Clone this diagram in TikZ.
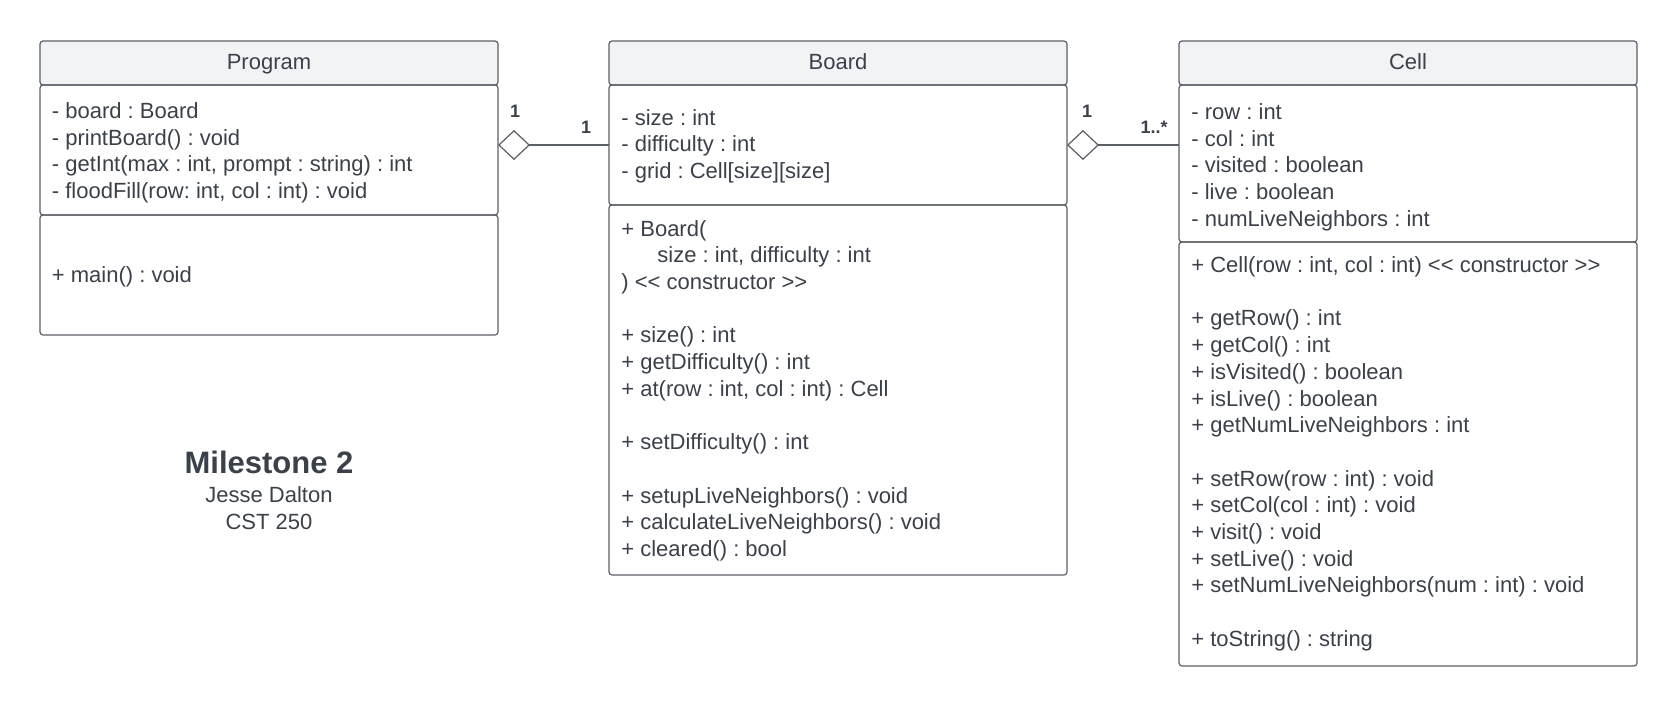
\documentclass[tikz,border=0pt]{standalone}
\usepackage{fontspec}
\setmainfont{Liberation Sans}
\usetikzlibrary{arrows.meta}
\definecolor{txt}{HTML}{3A414A}
\definecolor{edge}{HTML}{5A6068}
\definecolor{hdr}{HTML}{F2F3F5}
\newcommand{\blankline}{\\[13.35pt]}
\begin{document}
\frenchspacing
\begin{tikzpicture}[x=0.5pt,y=-0.5pt,
  font=\fontsize{11}{13.35}\selectfont, text=txt,
  compart/.style={draw=edge, line width=0.6pt, rounded corners=1.5pt, anchor=north west,
    minimum width=229pt, inner sep=0pt, outer sep=0pt},
  hdrbox/.style={compart, fill=hdr, minimum height=22pt, text depth=2.4pt, text height=9pt},
  member/.style={anchor=base west, align=left, inner sep=0pt},
  mult/.style={font=\bfseries\fontsize{9}{10}\selectfont, inner sep=0pt},
  assoc/.style={draw=edge, line width=0.6pt, -{Diamond[open,length=16pt,width=15pt]}}
]
\useasboundingbox (0,0) rectangle (1679,707);

% Program
\node[hdrbox] (ph) at (40,41) {Program};
\node[compart, minimum height=65pt] (pa) at (40,85) {};
\node[compart, minimum height=60pt] (pm) at (40,215) {};
% member nodes are anchored at the baseline of their last line
\node[member] (pat) at (51.5,198.5) {- board : Board\\- printBoard() : void\\- getInt(max : int, prompt : string) : int\\- floodFill(row: int, col : int) : void};
\node[member] (pmt) at (51.5,282) {+ main() : void};

% Board
\node[hdrbox] (bh) at (609,41) {Board};
\node[compart, minimum height=60pt] (ba) at (609,85) {};
\node[compart, minimum height=185pt] (bm) at (609,205) {};
\node[member] (bat) at (621,178.4) {- size : int\\- difficulty : int\\- grid : Cell[size][size]};
\node[member] (bmt) at (621,556.4) {+ Board(\\\hspace*{18pt}size : int, difficulty : int\\) {<}{<} constructor {>}{>}\blankline
+ size() : int\\+ getDifficulty() : int\\+ at(row : int, col : int) : Cell\blankline
+ setDifficulty() : int\blankline
+ setupLiveNeighbors() : void\\+ calculateLiveNeighbors() : void\\+ cleared() : bool};

% Cell
\node[hdrbox] (ch) at (1179,41) {Cell};
\node[compart, minimum height=78.5pt] (ca) at (1179,85) {};
\node[compart, minimum height=212pt] (cm) at (1179,242) {};
\node[member] (cat) at (1191,226.3) {- row : int\\- col : int\\- visited : boolean\\- live : boolean\\- numLiveNeighbors : int};
\node[member] (cmt) at (1191,646.3) {+ Cell(row : int, col : int) {<}{<} constructor {>}{>}\blankline
+ getRow() : int\\+ getCol() : int\\+ isVisited() : boolean\\+ isLive() : boolean\\+ getNumLiveNeighbors : int\blankline
+ setRow(row : int) : void\\+ setCol(col : int) : void\\+ visit() : void\\+ setLive() : void\\+ setNumLiveNeighbors(num : int) : void\blankline
+ toString() : string};

% Associations
\draw[assoc] (ba.west) -- (pa.east |- ba.west);
\draw[assoc] (ca.west |- ba.east) -- (ba.east);
\node[mult] (m1) at (515,111) {1};
\node[mult] (m2) at (586,127.5) {1};
\node[mult] (m3) at (1087,111) {1};
\node[mult] (m4) at (1154,127.5) {1..*};

% Title
\node[font=\bfseries\fontsize{15.5}{18}\selectfont, inner sep=0pt] (title) at (269,462.5) {Milestone 2};
\node[inner sep=0pt] (author) at (269,494.7) {Jesse Dalton};
\node[inner sep=0pt] (course) at (269,521.5) {CST 250};
\end{tikzpicture}
\end{document}
